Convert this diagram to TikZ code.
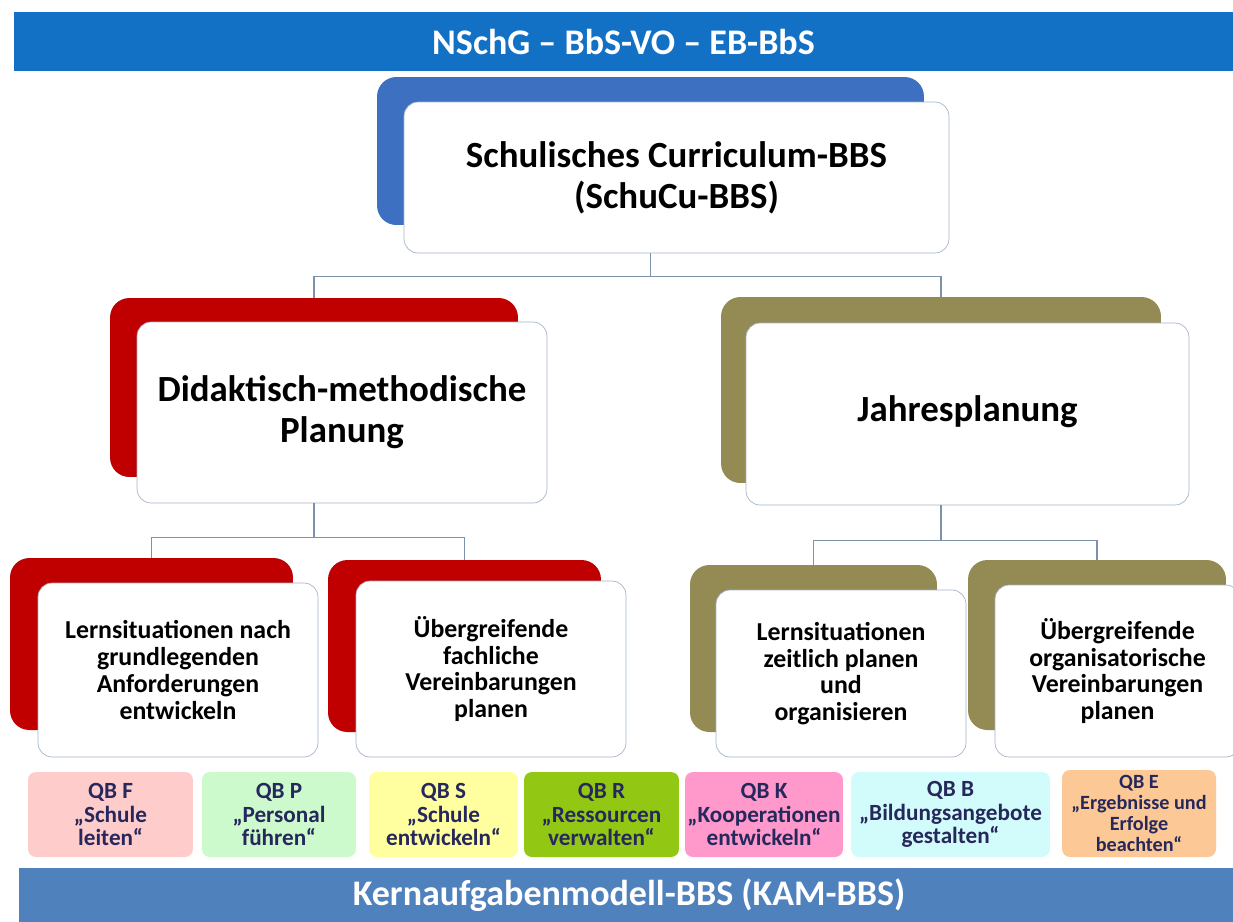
\documentclass[tikz,border=0pt]{standalone}
\usepackage{fontspec}
\setmainfont{Carlito}
\definecolor{lawblue}{RGB}{18,113,196}
\definecolor{kamblue}{RGB}{79,129,189}
\definecolor{topblue}{RGB}{62,112,194}
\definecolor{didred}{RGB}{192,0,0}
\definecolor{jahrolive}{RGB}{148,138,84}
\definecolor{frameline}{RGB}{165,180,200}
\definecolor{connline}{RGB}{125,145,170}
\definecolor{qbtext}{RGB}{38,40,92}
\definecolor{qbF}{RGB}{255,204,204}
\definecolor{qbP}{RGB}{204,250,204}
\definecolor{qbS}{RGB}{255,255,160}
\definecolor{qbR}{RGB}{146,200,20}
\definecolor{qbK}{RGB}{255,153,204}
\definecolor{qbB}{RGB}{210,252,252}
\definecolor{qbE}{RGB}{252,200,150}
\begin{document}
\begin{tikzpicture}
    [   x=0.02cm, y=-0.02cm,
        bar/.style={fill=#1,text=white,inner sep=0pt,font=\bfseries\fontsize{20.5}{24}\selectfont},
        back/.style={fill=#1,rounded corners=11pt,inner sep=0pt},
        front/.style={draw=frameline,fill=white,rounded corners=8pt,align=center,inner sep=0pt,
            font=\bfseries\fontsize{21}{23.3}\selectfont},
        lowtext/.style={font=\bfseries\fontsize{14.7}{15.2}\selectfont},
        qb/.style={fill=#1,rounded corners=4.5pt,align=center,text=qbtext,inner sep=0pt,
            minimum height=1.7cm,font=\bfseries\fontsize{13.2}{13.2}\selectfont},
        conn/.style={draw=connline,line width=0.8pt},
    ]
    \useasboundingbox (0,0) rectangle (1233,921);
    % bars
    \node[bar=lawblue,minimum width=24.38cm,minimum height=1.18cm] (law) at (623.5,41.5) {NSchG – BbS-VO – EB-BbS};
    \node[bar=kamblue,minimum width=24.4cm,minimum height=1.1cm] (kam) at (629,895) {Kernaufgabenmodell-BBS (KAM-BBS)};
    % top level
    \node[back=topblue,minimum width=10.94cm,minimum height=2.96cm] (schucuBack) at (650.5,151) {};
    \node[front,minimum width=10.9cm,minimum height=3.02cm] (schucu) at (676.5,177.5) {Schulisches Curriculum-BBS\\(SchuCu-BBS)};
    % second level
    \node[back=didred,minimum width=8.16cm,minimum height=3.58cm] (didBack) at (314,387.5) {};
    \node[front,minimum width=8.2cm,minimum height=3.62cm] (did) at (342,412.5) {Didaktisch-methodische\\Planung};
    \node[back=jahrolive,minimum width=8.8cm,minimum height=3.72cm] (jahrBack) at (941,390) {};
    \node[front,minimum width=8.86cm,minimum height=3.64cm,text depth=0.6em] (jahr) at (967.5,414) {Jahresplanung};
    % third level
    \node[back=didred,minimum width=5.66cm,minimum height=3.44cm] (lsBack) at (151.5,644) {};
    \node[front,lowtext,minimum width=5.6cm,minimum height=3.48cm] (ls) at (178,670) {Lernsituationen nach\\grundlegenden\\Anforderungen\\entwickeln};
    \node[back=didred,minimum width=5.46cm,minimum height=3.44cm] (ufBack) at (464.5,646) {};
    \node[front,lowtext,minimum width=5.4cm,minimum height=3.52cm] (uf) at (491,669) {Übergreifende\\fachliche\\Vereinbarungen\\planen};
    \node[back=jahrolive,minimum width=4.94cm,minimum height=3.34cm] (lzBack) at (813.5,648.5) {};
    \node[front,lowtext,minimum width=5cm,minimum height=3.34cm] (lz) at (841,673.5) {Lernsituationen\\zeitlich planen\\und\\organisieren};
    \node[back=jahrolive,minimum width=5.16cm,minimum height=3.4cm] (uoBack) at (1097,645) {};
    \node[front,lowtext,minimum width=4.9cm,minimum height=3.44cm] (uo) at (1117.5,671) {Übergreifende\\organisatorische\\Vereinbarungen\\planen};
    % connectors
    \draw[conn] (schucuBack.center |- schucu.south) -- ++(0,23) coordinate (j1) -| (didBack.north);
    \draw[conn] (j1) -| (jahrBack.north);
    \draw[conn] (didBack.center |- did.south) -- ++(0,34) coordinate (j2) -| (lsBack.north);
    \draw[conn] (j2) -| (ufBack.north);
    \draw[conn] (jahrBack.center |- jahr.south) -- ++(0,35) coordinate (j3) -| (lzBack.north);
    \draw[conn] (j3) -| (uoBack.north);
    % Qualitaetsbereiche
    \foreach \n/\x/\w/\c/\t in {F/110.5/3.3/qbF/{QB F\\„Schule\\leiten“},
        P/279/3.08/qbP/{QB P\\„Personal\\führen“},
        S/443.5/2.98/qbS/{QB S\\„Schule\\entwickeln“},
        R/601.5/3.1/qbR/{QB R\\„Ressourcen\\verwalten“},
        K/764/3.16/qbK/{QB K\\„Kooperationen\\entwickeln“},
        B/950.5/3.98/qbB/{QB B\\„Bildungsangebote\\gestalten“}}
    {   \node[qb=\c,minimum width=\w cm] (qb-\n) at (\x,814.5) {\t};
    }
    \node[qb=qbE,minimum width=3.08cm,minimum height=1.74cm,font=\bfseries\fontsize{11.5}{11.8}\selectfont] (qb-E) at (1139,813.5) {QB E\\„Ergebnisse und\\Erfolge\\beachten“};
\end{tikzpicture}
\end{document}
